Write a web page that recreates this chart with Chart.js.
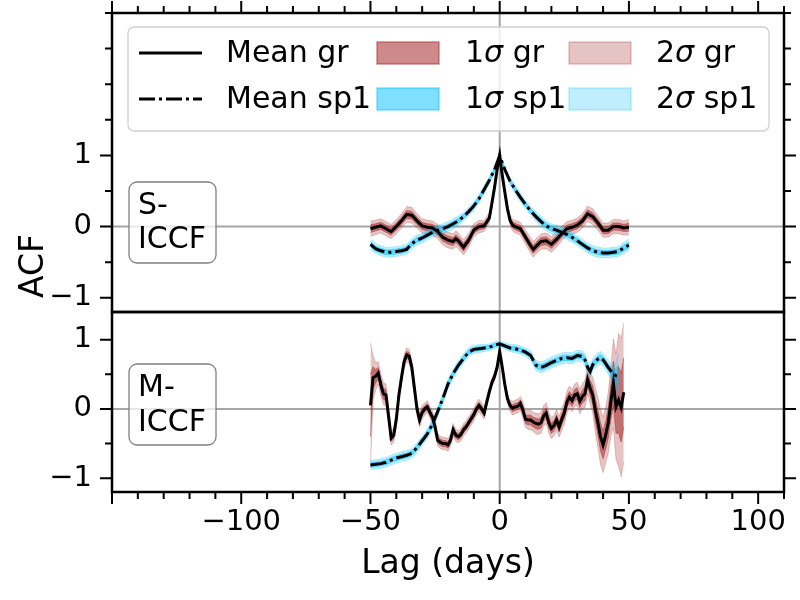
<!DOCTYPE html>
<html><head><meta charset="utf-8">
<script src="https://cdn.jsdelivr.net/npm/chart.js@4.4.0/dist/chart.umd.min.js"></script>
<style>
html,body{margin:0;padding:0;background:#fff;}
#wrap{position:relative;width:800px;height:600px;overflow:hidden;background:#fff;}
#wrap canvas{position:absolute;left:0;}
</style></head><body>
<div id="wrap">
<canvas id="cTop" width="800" height="316" style="top:0px;width:800px;height:316px"></canvas>
<canvas id="cBot" width="800" height="300" style="top:300px;width:800px;height:300px"></canvas>
</div>
<script>
// ---------------- DATA ----------------
const panelLabels = ['S-\nICCF', 'M-\nICCF'];
const legendLabels = ['Mean gr', 'Mean sp1', '1σ gr', '1σ sp1', '2σ gr', '2σ sp1'];
const xMajorTicks = [-100, -50, 0, 50, 100];
const yMajorTicks = [-1, 0, 1];
const xTitle = 'Lag (days)';
const yTitle = 'ACF';

// S-ICCF (top panel)
const lagsTopGr = [-50,-48,-46,-44,-42,-40,-38,-36,-34,-32,-30,-28,-26,-24,-22,-20,-18,-17,-16,-14,-12,-10,-8,-6,-4,-3,-2,-1,0,1,2,3,4,5,6,8,10,12,13,14,16,18,20,22,24,26,28,30,32,34,36,38,40,42,44,46,48,50];
const grTopMean = [-0.03,-0.01,0.01,-0.03,-0.07,0.0,0.08,0.17,0.16,0.08,0.01,-0.01,-0.02,-0.07,-0.15,-0.19,-0.21,-0.17,-0.2,-0.29,-0.19,-0.05,0.0,0.01,0.12,0.33,0.55,0.8,1.0,0.72,0.48,0.25,0.09,0.02,0.0,-0.03,-0.15,-0.27,-0.32,-0.28,-0.21,-0.2,-0.25,-0.18,-0.1,-0.03,-0.01,0.02,0.08,0.18,0.14,0.05,-0.05,-0.05,0.0,0.0,-0.02,-0.01];
const grTopSig = [0.055,0.05,0.05,0.05,0.05,0.05,0.05,0.055,0.055,0.05,0.05,0.05,0.05,0.05,0.055,0.055,0.055,0.055,0.055,0.055,0.05,0.045,0.045,0.04,0.035,0.03,0.025,0.02,0.01,0.02,0.025,0.03,0.035,0.04,0.045,0.045,0.05,0.055,0.055,0.055,0.055,0.055,0.055,0.055,0.05,0.05,0.05,0.05,0.05,0.055,0.055,0.05,0.05,0.05,0.05,0.05,0.05,0.055];
const lagsTopSp = [-50,-48,-46,-44,-42,-40,-38,-36,-34,-32,-30,-28,-26,-24,-22,-20,-18,-16,-14,-12,-10,-8,-6,-4,-2,0,2,4,6,8,10,12,14,16,18,20,22,24,26,28,30,32,34,36,38,40,42,44,46,48,50];
const sp1TopMean = [-0.25,-0.31,-0.34,-0.36,-0.36,-0.35,-0.34,-0.32,-0.24,-0.19,-0.16,-0.12,-0.08,-0.05,-0.03,0.0,0.04,0.08,0.14,0.21,0.29,0.39,0.52,0.65,0.8,1.0,0.8,0.64,0.52,0.41,0.31,0.22,0.14,0.07,0.01,-0.03,-0.05,-0.08,-0.11,-0.15,-0.2,-0.25,-0.3,-0.34,-0.36,-0.37,-0.37,-0.36,-0.35,-0.3,-0.26];
const sp1TopSig = [0.04,0.035,0.035,0.035,0.035,0.035,0.035,0.035,0.035,0.035,0.035,0.035,0.035,0.035,0.035,0.035,0.035,0.035,0.03,0.03,0.03,0.03,0.03,0.025,0.02,0.01,0.02,0.025,0.03,0.03,0.03,0.03,0.035,0.035,0.035,0.035,0.035,0.035,0.035,0.035,0.035,0.035,0.035,0.035,0.035,0.035,0.035,0.035,0.035,0.04,0.04];

// M-ICCF (bottom panel)
const lagsBotGr = [-50,-49,-48,-47,-46,-45,-44,-43,-42,-41,-40,-39,-38,-37,-36,-35,-34,-33,-32,-31,-30,-29,-28,-27,-26,-25,-24,-23,-22,-21,-20,-19,-18,-17,-16,-15,-14,-13,-12,-11,-10,-9,-8,-7,-6,-5,-4,-3,-2,-1,0,1,2,3,4,5,6,7,8,9,10,11,12,13,14,15,16,17,18,19,20,21,22,23,24,25,26,27,28,29,30,31,32,33,34,35,36,37,38,39,40,41,42,43,44,45,46,47,48];
const grBotMean = [0.05,0.45,0.47,0.52,0.35,0.22,0.2,-0.1,-0.42,-0.38,-0.15,0.2,0.45,0.68,0.78,0.76,0.6,0.3,0.0,-0.16,-0.05,0.0,0.03,-0.05,-0.12,-0.26,-0.45,-0.48,-0.5,-0.5,-0.52,-0.45,-0.3,-0.38,-0.4,-0.37,-0.3,-0.26,-0.2,-0.14,-0.08,0.0,0.05,0.0,-0.06,0.1,0.25,0.38,0.47,0.6,0.83,0.6,0.35,0.15,0.05,0.01,0.03,0.04,0.08,-0.02,-0.15,-0.16,-0.16,-0.19,-0.21,-0.22,-0.2,-0.1,-0.06,-0.2,-0.28,-0.24,-0.16,-0.26,-0.15,-0.06,0.1,0.17,0.12,0.2,0.22,0.11,0.18,0.22,0.42,0.3,0.2,-0.02,-0.2,-0.4,-0.52,-0.38,-0.2,0.1,0.37,0.03,0.13,0.02,0.24];
const grBotSig = [0.45,0.16,0.1,0.08,0.08,0.08,0.08,0.06,0.05,0.05,0.05,0.05,0.05,0.05,0.05,0.05,0.05,0.05,0.05,0.05,0.05,0.045,0.045,0.045,0.045,0.045,0.045,0.045,0.045,0.045,0.045,0.045,0.045,0.045,0.045,0.045,0.045,0.045,0.045,0.045,0.045,0.045,0.045,0.045,0.045,0.04,0.035,0.03,0.03,0.03,0.02,0.03,0.03,0.035,0.04,0.05,0.05,0.05,0.05,0.06,0.06,0.07,0.07,0.07,0.075,0.075,0.075,0.075,0.075,0.075,0.075,0.075,0.075,0.075,0.08,0.08,0.08,0.08,0.08,0.08,0.085,0.09,0.09,0.1,0.1,0.11,0.13,0.16,0.18,0.2,0.2,0.2,0.22,0.25,0.32,0.38,0.48,0.5,0.5];
const lagsBotSp = [-50,-48,-46,-44,-42,-40,-38,-36,-34,-32,-30,-28,-26,-24,-22,-20,-18,-16,-14,-12,-10,-8,-6,-4,-2,0,2,4,6,8,10,12,14,16,18,20,22,24,26,28,30,32,33,34,35,36,38,39,40,42,44,45,46];
const sp1BotMean = [-0.81,-0.8,-0.79,-0.77,-0.74,-0.71,-0.69,-0.67,-0.64,-0.56,-0.46,-0.36,-0.22,-0.04,0.15,0.36,0.51,0.63,0.73,0.82,0.86,0.87,0.88,0.89,0.92,0.94,0.91,0.88,0.87,0.85,0.82,0.77,0.63,0.6,0.63,0.67,0.7,0.73,0.74,0.73,0.77,0.76,0.71,0.6,0.54,0.64,0.72,0.74,0.71,0.6,0.5,0.48,0.47];
const sp1BotSig = [0.035,0.035,0.035,0.035,0.035,0.035,0.035,0.035,0.035,0.035,0.035,0.035,0.035,0.035,0.035,0.035,0.035,0.035,0.035,0.03,0.03,0.03,0.025,0.025,0.025,0.02,0.025,0.025,0.03,0.03,0.03,0.035,0.035,0.04,0.04,0.04,0.04,0.04,0.04,0.04,0.04,0.04,0.045,0.045,0.045,0.045,0.045,0.045,0.045,0.05,0.06,0.1,0.17];

// ---------------- STYLE ----------------
const FONT = '"DejaVu Sans", "Liberation Sans", sans-serif';
Chart.defaults.font.family = FONT;
const TICK_FS = 29, TEXT_FS = 30, TITLE_FS = 33;
const COL = {
  gr1: 'rgba(165,42,42,0.55)', gr1e: 'rgba(165,42,42,0.6)',
  gr2: 'rgba(165,42,42,0.28)', gr2e: 'rgba(165,42,42,0.3)',
  sp1: 'rgba(0,191,255,0.5)', sp1e: 'rgba(0,191,255,0.55)',
  sp2: 'rgba(0,191,255,0.25)', sp2e: 'rgba(0,191,255,0.3)'
};
const fmt = v => (v < 0 ? '\u2212' + Math.abs(v) : String(v));

function bandSets(lags, mean, sig, c1, c1e, c2, c2e, ord) {
  const pts = k => lags.map((l, i) => ({x: l, y: mean[i] + k * sig[i]}));
  const base = {pointRadius: 0, tension: 0, borderWidth: 0.8};
  return [
    Object.assign({}, base, {data: pts(-2), borderColor: c2e, fill: false, order: ord + 1}),
    Object.assign({}, base, {data: pts(2), borderColor: c2e, backgroundColor: c2, fill: '-1', order: ord + 1}),
    Object.assign({}, base, {data: pts(-1), borderColor: c1e, fill: false, order: ord}),
    Object.assign({}, base, {data: pts(1), borderColor: c1e, backgroundColor: c1, fill: '-1', order: ord})
  ];
}
function meanSet(lags, mean, dash, ord) {
  return {data: lags.map((l, i) => ({x: l, y: mean[i]})), borderColor: '#000', borderWidth: 3,
    borderDash: dash, borderCapStyle: 'butt', pointRadius: 0, tension: 0, fill: false, order: ord};
}
function buildSets(lg, gm, gs, ls, sm, ss) {
  return [].concat(
    bandSets(lg, gm, gs, COL.gr1, COL.gr1e, COL.gr2, COL.gr2e, 6),
    bandSets(ls, sm, ss, COL.sp1, COL.sp1e, COL.sp2, COL.sp2e, 3),
    [meanSet(lg, gm, [], 2), meanSet(ls, sm, [16, 4, 3, 4], 1)]
  );
}

function rrect(ctx, x, y, w, h, r) {
  ctx.beginPath();
  ctx.moveTo(x + r, y); ctx.lineTo(x + w - r, y); ctx.arcTo(x + w, y, x + w, y + r, r);
  ctx.lineTo(x + w, y + h - r); ctx.arcTo(x + w, y + h, x + w - r, y + h, r);
  ctx.lineTo(x + r, y + h); ctx.arcTo(x, y + h, x, y + h - r, r);
  ctx.lineTo(x, y + r); ctx.arcTo(x, y, x + r, y, r); ctx.closePath();
}
function drawRich(ctx, txt, x, y, size) {
  const parts = txt.split(/(σ)/);
  for (const p of parts) {
    if (!p) continue;
    ctx.font = (p === 'σ' ? 'italic ' : '') + size + 'px ' + FONT;
    ctx.fillText(p, x, y);
    x += ctx.measureText(p).width;
  }
}

const framePlugin = {
  id: 'frame',
  beforeDatasetsDraw(chart, args, o) {
    const {ctx, chartArea: a, scales: {x, y}} = chart;
    ctx.save();
    ctx.strokeStyle = 'rgba(128,128,128,0.7)'; ctx.lineWidth = 2;
    const x0 = x.getPixelForValue(0), y0 = y.getPixelForValue(0);
    ctx.beginPath();
    ctx.moveTo(x0, a.top); ctx.lineTo(x0, a.bottom);
    ctx.moveTo(a.left, y0); ctx.lineTo(a.right, y0);
    ctx.stroke();
    ctx.restore();
  },
  afterDraw(chart, args, o) {
    const {ctx, chartArea: a, scales: {x, y}} = chart;
    ctx.save();
    // text box
    const b = o.box;
    rrect(ctx, b.x, b.y, b.w, b.h, 8);
    ctx.fillStyle = 'rgba(255,255,255,0.75)'; ctx.fill();
    ctx.strokeStyle = '#808080'; ctx.lineWidth = 1.3; ctx.stroke();
    ctx.fillStyle = '#000'; ctx.font = TEXT_FS + 'px ' + FONT; ctx.textAlign = 'left'; ctx.textBaseline = 'alphabetic';
    b.text.split('\n').forEach((t, i) => ctx.fillText(t, b.x + 9, b.base + i * b.lh));

    // spines
    ctx.strokeStyle = '#000'; ctx.lineWidth = 2.5;
    ctx.strokeRect(a.left, a.top, a.right - a.left, a.bottom - a.top);
    // ticks
    ctx.lineWidth = 2;
    ctx.beginPath();
    for (let v = Math.ceil(y.min * 2) / 2; v <= y.max + 1e-9; v += 0.5) {
      const py = y.getPixelForValue(v);
      const len = yMajorTicks.includes(v) ? 12 : 7;
      ctx.moveTo(a.left, py); ctx.lineTo(a.left - len, py);
      ctx.moveTo(a.right, py); ctx.lineTo(a.right + len, py);
    }
    for (let v = Math.ceil(x.min / 10) * 10; v <= x.max + 1e-9; v += 10) {
      const px = x.getPixelForValue(v);
      const len = xMajorTicks.includes(v) || v % 50 === 0 ? 12 : 7;
      if (o.xTop) { ctx.moveTo(px, a.top); ctx.lineTo(px, a.top - len); }
      if (o.xBottom) { ctx.moveTo(px, a.bottom); ctx.lineTo(px, a.bottom + len); }
    }
    ctx.stroke();

    if (o.legend) {
      // legend
      rrect(ctx, 128, 27, 641, 104, 6);
      ctx.fillStyle = 'rgba(255,255,255,0.8)'; ctx.fill();
      ctx.strokeStyle = '#d0d0d0'; ctx.lineWidth = 1.3; ctx.stroke();
      const rows = [53, 99];
      ctx.strokeStyle = '#000'; ctx.lineWidth = 3; ctx.lineCap = 'butt';
      ctx.setLineDash([]);
      ctx.beginPath(); ctx.moveTo(139, rows[0]); ctx.lineTo(202, rows[0]); ctx.stroke();
      ctx.setLineDash([16, 4, 3, 4]);
      ctx.beginPath(); ctx.moveTo(139, rows[1]); ctx.lineTo(202, rows[1]); ctx.stroke();
      ctx.setLineDash([]);
      const patches = [[377, rows[0], COL.gr1, COL.gr1e], [377, rows[1], COL.sp1, COL.sp1e],
                       [569, rows[0], COL.gr2, COL.gr2e], [569, rows[1], COL.sp2, COL.sp2e]];
      ctx.lineWidth = 1.3;
      patches.forEach(p => {
        ctx.fillStyle = p[2]; ctx.fillRect(p[0], p[1] - 11, 62, 22);
        ctx.strokeStyle = p[3]; ctx.strokeRect(p[0], p[1] - 11, 62, 22);
      });
      ctx.fillStyle = '#000'; ctx.textBaseline = 'middle'; ctx.textAlign = 'left';
      const tx = [226, 226, 465, 465, 656, 656];
      legendLabels.forEach((t, i) => drawRich(ctx, t, tx[i], rows[i % 2] + 1, TEXT_FS));
      // y title
      ctx.save();
      ctx.translate(34, 266); ctx.rotate(-Math.PI / 2);
      ctx.font = TITLE_FS + 'px ' + FONT; ctx.textAlign = 'center'; ctx.textBaseline = 'middle';
      ctx.fillText(yTitle, 0, 0);
      ctx.restore();
    }
    if (o.xTitle) {
      ctx.fillStyle = '#000';
      ctx.font = TITLE_FS + 'px ' + FONT; ctx.textAlign = 'center'; ctx.textBaseline = 'middle';
      ctx.fillText(xTitle, (a.left + a.right) / 2, 264);
    }
    ctx.restore();
  }
};

function yScale(min, max) {
  return {
    type: 'linear', min: min, max: max,
    afterFit: s => { s.width = 112; s.paddingTop = 0; s.paddingBottom = 0; },
    afterBuildTicks: s => { s.ticks = yMajorTicks.map(v => ({value: v})); },
    grid: {display: false, drawTicks: false}, border: {display: false},
    ticks: {padding: 20, color: '#000', font: {size: TICK_FS}, callback: v => fmt(v)}
  };
}

new Chart(document.getElementById('cTop'), {
  type: 'line',
  data: {datasets: buildSets(lagsTopGr, grTopMean, grTopSig, lagsTopSp, sp1TopMean, sp1TopSig)},
  options: {
    responsive: false, animation: false, devicePixelRatio: 1,
    layout: {padding: {top: 13, right: 16, bottom: 4, left: 0}},
    plugins: {legend: {display: false}, tooltip: {enabled: false},
      frame: {xTop: true, xBottom: false, legend: true,
        box: {x: 129, y: 182, w: 87, h: 81, text: panelLabels[0], base: 214, lh: 34}}},
    scales: {
      x: {type: 'linear', min: -150, max: 110, display: false,
        afterFit: s => { s.paddingLeft = 0; s.paddingRight = 0; }},
      y: yScale(-1.2, 3.0)
    }
  },
  plugins: [framePlugin]
});

new Chart(document.getElementById('cBot'), {
  type: 'line',
  data: {datasets: buildSets(lagsBotGr, grBotMean, grBotSig, lagsBotSp, sp1BotMean, sp1BotSig)},
  options: {
    responsive: false, animation: false, devicePixelRatio: 1,
    layout: {padding: {top: 12, right: 16, bottom: 0, left: 0}},
    plugins: {legend: {display: false}, tooltip: {enabled: false},
      frame: {xTop: false, xBottom: true, legend: false, xTitle: true,
        box: {x: 129, y: 64, w: 87, h: 81, text: panelLabels[1], base: 96, lh: 35}}},
    scales: {
      x: {type: 'linear', min: -150, max: 110,
        afterFit: s => { s.height = 108; s.paddingLeft = 0; s.paddingRight = 0; },
        afterBuildTicks: s => { s.ticks = xMajorTicks.map(v => ({value: v})); },
        grid: {display: false, drawTicks: false}, border: {display: false},
        ticks: {padding: 13, color: '#000', font: {size: TICK_FS}, autoSkip: false, maxRotation: 0, callback: v => fmt(v)}},
      y: yScale(-1.2, 1.4)
    }
  },
  plugins: [framePlugin]
});
</script>
</body></html>
